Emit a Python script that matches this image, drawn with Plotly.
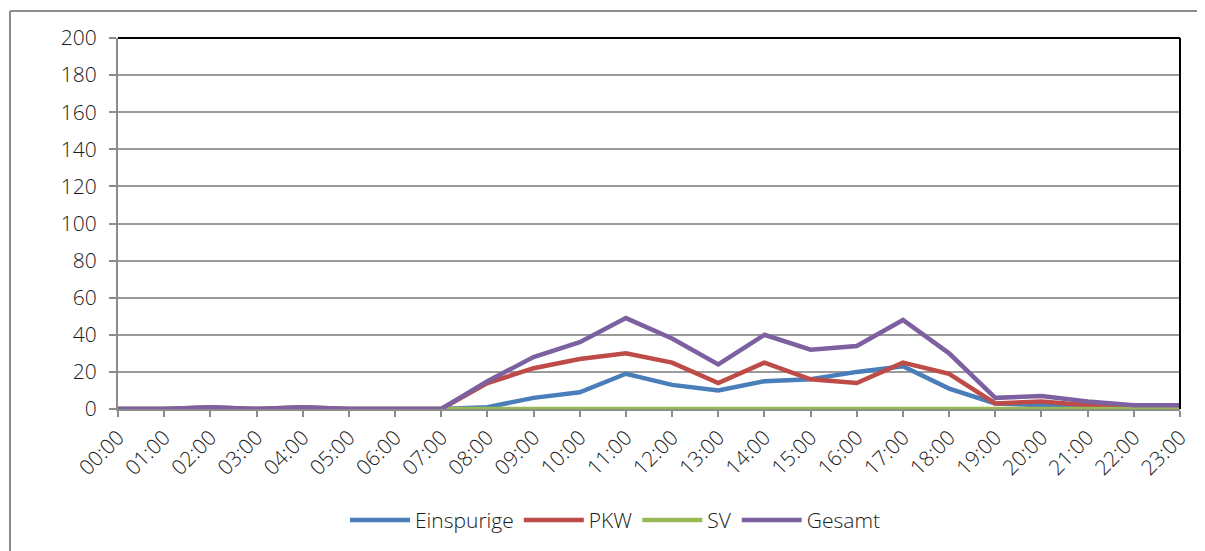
import plotly.graph_objects as go

hours = ["00:00", "01:00", "02:00", "03:00", "04:00", "05:00", "06:00", "07:00",
         "08:00", "09:00", "10:00", "11:00", "12:00", "13:00", "14:00", "15:00",
         "16:00", "17:00", "18:00", "19:00", "20:00", "21:00", "22:00", "23:00"]

einspurige = [0, 0, 0, 0, 0, 0, 0, 0, 1, 6, 9, 19, 13, 10, 15, 16, 20, 23, 11, 3, 2, 2, 1, 1]
pkw = [0, 0, 1, 0, 1, 0, 0, 0, 14, 22, 27, 30, 25, 14, 25, 16, 14, 25, 19, 3, 4, 2, 1, 1]
sv = [0] * 24
gesamt = [0, 0, 1, 0, 1, 0, 0, 0, 15, 28, 36, 49, 38, 24, 40, 32, 34, 48, 30, 6, 7, 4, 2, 2]

series = [
    ("Einspurige", einspurige, "#4a7ebb"),
    ("PKW", pkw, "#be4b48"),
    ("SV", sv, "#98b954"),
    ("Gesamt", gesamt, "#7d60a0"),
]

fig = go.Figure()
for name, vals, col in series:
    fig.add_trace(go.Scatter(
        x=hours, y=vals, mode="lines", name=name,
        line=dict(color=col, width=4.5)
    ))

font = dict(family="Open Sans", size=21, color="#1a1a1a", weight=300)

# page body adds ~8px offset, so margins are trimmed to keep the plot area in place
fig.update_layout(
    width=1205, height=551,
    margin=dict(l=110, r=33, t=30, b=150),
    plot_bgcolor="white", paper_bgcolor="white",
    font=font,
    showlegend=True,
    legend=dict(orientation="h", x=0.468, xanchor="center", y=-0.30, yanchor="middle",
                font=font, itemwidth=60, traceorder="normal"),
    xaxis=dict(type="category", range=[0, 23], tickangle=-45,
               showline=True, linecolor="#8c8c8c", linewidth=2,
               ticks="outside", ticklen=6, tickcolor="#8c8c8c", tickwidth=2,
               showgrid=False, zeroline=False, tickfont=font),
    yaxis=dict(range=[0, 200], dtick=20,
               showline=True, linecolor="#8c8c8c", linewidth=2,
               ticks="outside", ticklen=7, tickcolor="#8c8c8c", tickwidth=2,
               ticklabelstandoff=8,
               showgrid=True, gridcolor="#9a9a9a", gridwidth=1.5,
               zeroline=False, tickfont=font),
)

# black frame on top and right of plot area
fig.add_shape(type="line", xref="paper", yref="paper", x0=0, x1=1, y0=1, y1=1,
              line=dict(color="black", width=2))
fig.add_shape(type="line", xref="paper", yref="paper", x0=1, x1=1, y0=0, y1=1,
              line=dict(color="black", width=2))

# outer chart border (top and left)
fig.add_shape(type="line", xref="paper", yref="paper", x0=-0.1017, x1=1.2, y0=1.0728, y1=1.0728,
              line=dict(color="#8c8c8c", width=2))
fig.add_shape(type="line", xref="paper", yref="paper", x0=-0.1017, x1=-0.1017, y0=-0.5, y1=1.0728,
              line=dict(color="#8c8c8c", width=2))

fig.write_html("out.html")
